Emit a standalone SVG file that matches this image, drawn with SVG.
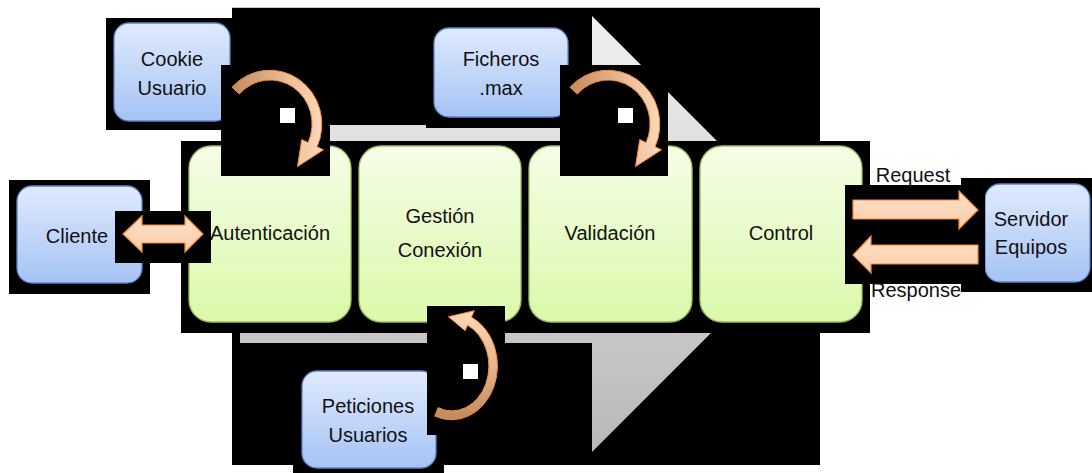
<svg xmlns="http://www.w3.org/2000/svg" width="1092" height="473" viewBox="0 0 1092 473">
<defs>
<linearGradient id="gArrow" gradientUnits="userSpaceOnUse" x1="0" y1="16" x2="0" y2="452">
<stop offset="0" stop-color="#f0f0f0"/><stop offset="1" stop-color="#b8b8b8"/></linearGradient>
<linearGradient id="gGreen" x1="0" y1="0" x2="0" y2="1">
<stop offset="0" stop-color="#f4fde6"/><stop offset="1" stop-color="#dbf9aa"/></linearGradient>
<linearGradient id="gBlue" x1="0" y1="0" x2="0" y2="1">
<stop offset="0" stop-color="#e0eafd"/><stop offset="1" stop-color="#a5c3f5"/></linearGradient>
<linearGradient id="gPeach" x1="0" y1="0" x2="0" y2="1">
<stop offset="0" stop-color="#fde0c8"/><stop offset="1" stop-color="#fbcda8"/></linearGradient>
<linearGradient id="gCurveX" x1="0" y1="0" x2="1" y2="0">
<stop offset="0" stop-color="#c38a5f"/><stop offset="0.55" stop-color="#e9b892"/><stop offset="1" stop-color="#fdd9bb"/></linearGradient>
<linearGradient id="gCurveY" x1="0" y1="1" x2="0" y2="0">
<stop offset="0" stop-color="#c38a5f"/><stop offset="0.55" stop-color="#e9b892"/><stop offset="1" stop-color="#fdd9bb"/></linearGradient>
</defs>
<style>
.blk{fill:#000}
.green{fill:url(#gGreen);stroke:#9fbf62;stroke-width:1.3}
.blue{fill:url(#gBlue);stroke:#5b87c8;stroke-width:1.3}
.peach{fill:url(#gPeach);stroke:#f08a3c;stroke-width:1.2;stroke-linejoin:miter}
.curveX{fill:url(#gCurveX);stroke:#f08a3c;stroke-width:1}
.curveY{fill:url(#gCurveY);stroke:#f08a3c;stroke-width:1}
.sq{fill:#fff}
text{font-family:"Liberation Sans",Arial,sans-serif;font-size:20px;fill:#111;text-anchor:middle}
</style>
<rect width="1092" height="473" fill="#fff"/>

<g id="background">
<rect class="blk" x="232" y="7" width="588" height="458"/>
<line x1="232" y1="7.5" x2="820" y2="7.5" stroke="#c8c8c8" stroke-width="1"/>
<polygon points="240,125 592,125 592,16 810,234 592,452 592,343 240,343" fill="url(#gArrow)"/>
<rect class="blk" x="106" y="18" width="126" height="112"/>
<rect class="blk" x="426" y="14" width="150" height="114"/>
<rect class="blk" x="181" y="141" width="689" height="192"/>
<rect class="blk" x="293" y="360" width="151" height="113"/>
<rect class="blk" x="9" y="180" width="141" height="114"/>
<rect class="blk" x="961" y="178" width="131" height="114"/>
</g>

<g id="node-cookie"><rect class="blue" x="114" y="23" width="116" height="98" rx="15"/></g>
<g id="node-ficheros"><rect class="blue" x="434" y="28" width="134" height="89" rx="15"/></g>
<g id="node-autenticacion"><rect class="green" x="189" y="146" width="162" height="176" rx="22"/></g>
<g id="node-gestion"><rect class="green" x="359" y="146" width="162" height="176" rx="22"/></g>
<g id="node-validacion"><rect class="green" x="529" y="146" width="163" height="176" rx="22"/></g>
<g id="node-control"><rect class="green" x="700" y="146" width="162" height="176" rx="22"/></g>
<g id="node-peticiones"><rect class="blue" x="302" y="371" width="134" height="97" rx="15"/></g>
<g id="node-cliente"><rect class="blue" x="17" y="186" width="125" height="97" rx="15"/></g>
<g id="node-servidor"><rect class="blue" x="985" y="184" width="105" height="98" rx="15"/></g>

<g id="connectors">
<rect class="blk" x="221" y="65" width="109" height="111"/>
<rect class="sq" x="280" y="108" width="15" height="15"/>
<path class="curveX" d="M232,87.2 A52,54 0 0 1 317.1,146.8 L323.5,149.8 L297.5,166.6 L301.7,139.6 L308.1,142.6 A42,44 0 0 0 239.3,94 Z"/>

<rect class="blk" x="560" y="65" width="108" height="111"/>
<rect class="sq" x="618" y="108" width="15" height="15"/>
<path class="curveX" d="M570,87.2 A52,54 0 0 1 655.1,146.8 L661.5,149.8 L635.5,166.6 L639.7,139.6 L646.1,142.6 A42,44 0 0 0 577.3,94 Z"/>

<rect class="blk" x="427" y="306" width="78" height="129"/>
<rect class="sq" x="463" y="364" width="15" height="15"/>
<path class="curveY" d="M434.8,416.1 A46,54 0 0 0 471.4,317.1 L474.4,310.7 L448.4,316.7 L465.1,330.7 L467.6,325.2 A37,45 0 0 1 438.1,407.7 Z"/>

<rect class="blk" x="115" y="211" width="96" height="52"/>
<polygon class="peach" points="123,234 142,216 142,225 185,225 185,216 203,234 185,252 185,243 142,243 142,252"/>

<rect class="blk" x="845" y="185" width="140" height="99"/>
<polygon class="peach" points="853,200 959,200 959,191 978,210 959,229 959,219 853,219"/>
<polygon class="peach" points="978,245 871,245 871,236 853,255 871,273 871,264 978,264"/>
<text x="913" y="182">Request</text>
<text x="916" y="297">Response</text>
</g>

<g id="labels">
<text x="172" y="66">Cookie</text>
<text x="172" y="95">Usuario</text>
<text x="501" y="66">Ficheros</text>
<text x="501" y="95">.max</text>
<text x="270" y="240">Autenticación</text>
<text x="440" y="223">Gestión</text>
<text x="440" y="257">Conexión</text>
<text x="610" y="240">Validación</text>
<text x="781" y="240">Control</text>
<text x="368" y="413">Peticiones</text>
<text x="368" y="442">Usuarios</text>
<text x="77" y="243">Cliente</text>
<text x="1031" y="226">Servidor</text>
<text x="1031" y="254">Equipos</text>
</g>
</svg>
